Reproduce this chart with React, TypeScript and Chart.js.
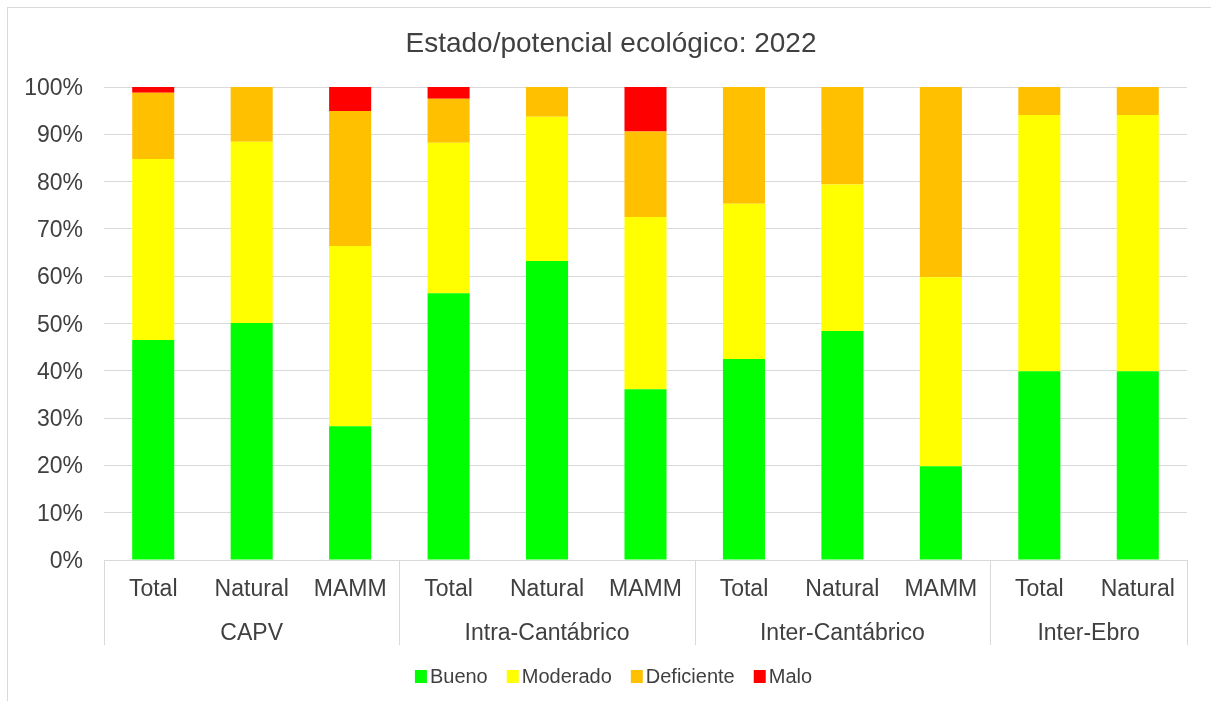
import React, { useEffect, useRef } from "react";
import { Chart, registerables } from "chart.js";

Chart.register(...registerables);

const categories = ["Total", "Natural", "MAMM", "Total", "Natural", "MAMM", "Total", "Natural", "MAMM", "Total", "Natural"];
const groups = ["CAPV", "Intra-Cantábrico", "Inter-Cantábrico", "Inter-Ebro"];
const groupSizes = [3, 3, 3, 2];

const bueno = [46.5, 50.1, 28.3, 56.4, 63.2, 36.1, 42.5, 48.4, 19.8, 39.9, 39.9];
const moderado = [38.3, 38.3, 38.1, 31.8, 30.5, 36.4, 32.8, 31.0, 40.0, 54.2, 54.2];
const deficiente = [14.0, 11.6, 28.5, 9.3, 6.3, 18.1, 24.7, 20.6, 40.2, 5.9, 5.9];
const malo = [1.2, 0, 5.1, 2.5, 0, 9.4, 0, 0, 0, 0, 0];

const seriesNames = ["Bueno", "Moderado", "Deficiente", "Malo"];
const seriesColors = ["#00FF00", "#FFFF00", "#FFC000", "#FF0000"];
const yTickValues = [0, 10, 20, 30, 40, 50, 60, 70, 80, 90, 100];
const titleText = "Estado/potencial ecológico: 2022";

const FONT = "'Liberation Sans', Arial, sans-serif";
const TEXT = "#404040";
const LINE = "#d9d9d9";

const decorPlugin = {
  id: "decor",
  afterDraw(chart: any) {
    const ctx = chart.ctx as CanvasRenderingContext2D;
    const area = chart.chartArea;
    const xs = chart.scales.x;
    const ys = chart.scales.y;
    ctx.save();
    // outer border
    ctx.strokeStyle = LINE;
    ctx.lineWidth = 1;
    ctx.strokeRect(7.5, 7.5, 1240, 740);

    // title
    ctx.fillStyle = TEXT;
    ctx.font = `28px ${FONT}`;
    ctx.textAlign = "center";
    ctx.textBaseline = "alphabetic";
    ctx.fillText(titleText, 611, 52);

    // y tick labels
    ctx.font = `23px ${FONT}`;
    ctx.textAlign = "right";
    yTickValues.forEach((v) => {
      ctx.fillText(`${v}%`, 83, ys.getPixelForValue(v) + 8);
    });

    // category labels
    ctx.textAlign = "center";
    categories.forEach((c, i) => {
      ctx.fillText(c, xs.getPixelForTick(i), 596);
    });

    // group labels and separators
    const step = (area.right - area.left) / categories.length;
    let idx = 0;
    ctx.strokeStyle = LINE;
    ctx.beginPath();
    ctx.moveTo(Math.round(area.left) + 0.5, area.bottom);
    ctx.lineTo(Math.round(area.left) + 0.5, 645);
    groups.forEach((g, gi) => {
      const n = groupSizes[gi];
      const x0 = area.left + idx * step;
      const x1 = area.left + (idx + n) * step;
      ctx.fillText(g, (x0 + x1) / 2, 640);
      ctx.moveTo(Math.round(x1) + 0.5, area.bottom);
      ctx.lineTo(Math.round(x1) + 0.5, 645);
      idx += n;
    });
    ctx.stroke();

    // legend
    ctx.font = `20px ${FONT}`;
    ctx.textAlign = "left";
    const box = 12;
    const gapBoxText = 3;
    const gapItems = 19;
    const widths = seriesNames.map((s) => ctx.measureText(s).width);
    const total = widths.reduce((a, w) => a + box + gapBoxText + w, 0) + gapItems * (seriesNames.length - 1);
    let x = 613.5 - total / 2;
    seriesNames.forEach((s, i) => {
      ctx.fillStyle = seriesColors[i];
      ctx.fillRect(x, 670, box, box + 1);
      ctx.fillStyle = TEXT;
      ctx.fillText(s, x + box + gapBoxText, 683);
      x += box + gapBoxText + widths[i] + gapItems;
    });
    ctx.restore();
  },
};

export default function App() {
  const ref = useRef<HTMLCanvasElement | null>(null);
  useEffect(() => {
    if (!ref.current) return;
    const seriesData = [bueno, moderado, deficiente, malo];
    const chart = new Chart(ref.current, {
      type: "bar",
      data: {
        labels: categories,
        datasets: seriesNames.map((name, i) => ({
          label: name,
          data: seriesData[i],
          backgroundColor: seriesColors[i],
          borderWidth: 0,
          barPercentage: 0.427,
          categoryPercentage: 1,
        })),
      },
      options: {
        responsive: false,
        animation: false,
        devicePixelRatio: 1,
        layout: { padding: { left: 0, right: 24, top: 87, bottom: 0 } },
        plugins: {
          legend: { display: false },
          title: { display: false },
          tooltip: { enabled: false },
        },
        scales: {
          x: {
            stacked: true,
            grid: { display: false },
            border: { display: false },
            ticks: { display: false },
            afterFit: (s: any) => {
              s.height = 141;
            },
          },
          y: {
            stacked: true,
            min: 0,
            max: 100,
            grid: { color: LINE, drawTicks: false, lineWidth: 1 },
            border: { display: false },
            ticks: { stepSize: 10, display: false },
            afterFit: (s: any) => {
              s.width = 104;
            },
          },
        },
      },
      plugins: [decorPlugin],
    });
    return () => chart.destroy();
  }, []);
  return (
    <div style={{ position: "fixed", left: 0, top: 0, width: 1211, height: 701, background: "#fff" }}>
      <canvas ref={ref} width={1211} height={701} style={{ display: "block" }} />
    </div>
  );
}
